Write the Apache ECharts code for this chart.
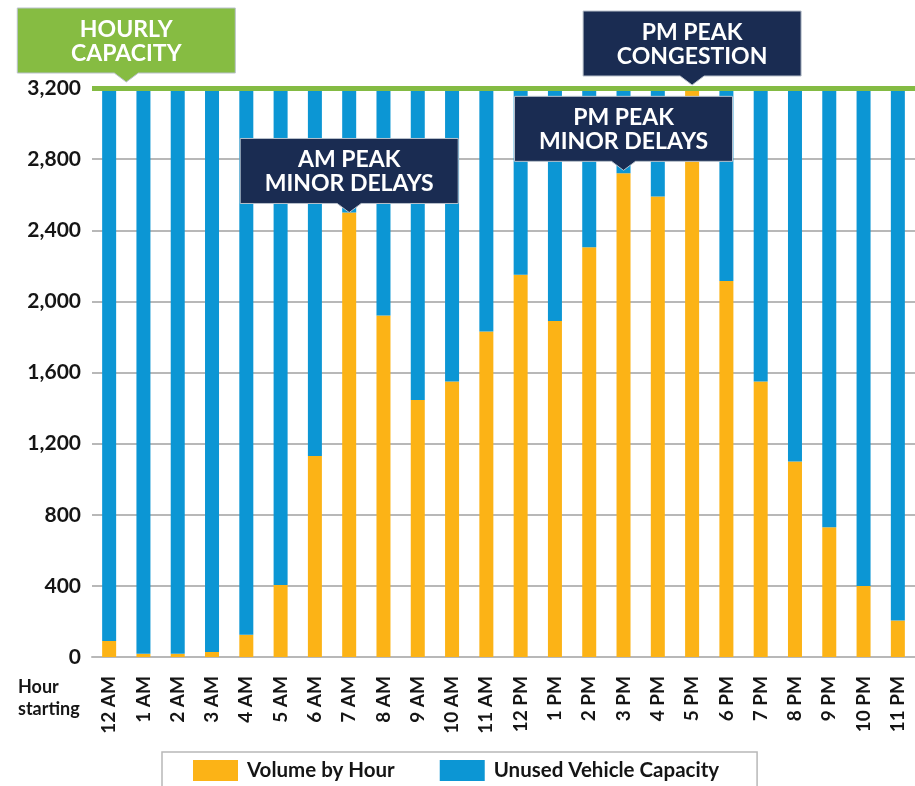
<!DOCTYPE html>
<html>
<head>
<meta charset="utf-8">
<script src="https://cdn.jsdelivr.net/npm/echarts@6/dist/echarts.min.js"></script>
<style>
  html, body { margin: 0; padding: 0; background: #fff; }
  #chart { width: 915px; height: 786px; }
</style>
</head>
<body>
<div id="chart"></div>
<script>
// hours on the x axis
var hours = ['12 AM', '1 AM', '2 AM', '3 AM', '4 AM', '5 AM', '6 AM', '7 AM', '8 AM', '9 AM', '10 AM', '11 AM',
    '12 PM', '1 PM', '2 PM', '3 PM', '4 PM', '5 PM', '6 PM', '7 PM', '8 PM', '9 PM', '10 PM', '11 PM'];

// vehicles per hour
var volume = [90, 18, 18, 28, 125, 405, 1130, 2500, 1920, 1445, 1550, 1830,
    2150, 1890, 2305, 2720, 2590, 3200, 2115, 1550, 1100, 730, 400, 205];

var capacity = 3200;
var yTicks = [0, 400, 800, 1200, 1600, 2000, 2400, 2800, 3200];

// callouts: text, which hour they point at, value they point at
var notes = [
    { text: 'HOURLY\nCAPACITY', at: 0.5, value: 3200, fill: '#86bc42', lift: 6 },
    { text: 'PM PEAK\nCONGESTION', at: 17, value: 3200, fill: '#1a2c52', lift: 3 },
    { text: 'AM PEAK\nMINOR DELAYS', at: 7, value: 2500, fill: '#1a2c52', lift: 0 },
    { text: 'PM PEAK\nMINOR DELAYS', at: 15, value: 2720, fill: '#1a2c52', lift: 3 }
];

var unused = volume.map(function (v) { return capacity - v; });

var myChart = echarts.init(document.getElementById('chart'));

var option = {
    backgroundColor: '#ffffff',
    animation: false,
    textStyle: { fontFamily: 'Lato' },
    grid: { left: 92, right: 0, top: 88, bottom: 129 },
    legend: {
        left: 162,
        top: 752,
        padding: [8, 38, 14, 31],
        borderColor: '#b8b8b8',
        borderWidth: 1.5,
        itemWidth: 45,
        itemHeight: 21,
        itemGap: 45,
        icon: 'rect',
        textStyle: { fontSize: 20.5, fontWeight: 'bold', color: '#151515', padding: [0, 0, 0, 4] },
        data: ['Volume by Hour', 'Unused Vehicle Capacity']
    },
    xAxis: {
        type: 'category',
        data: hours,
        axisLine: { lineStyle: { color: '#b8b8b8', width: 2 } },
        axisTick: { show: false },
        axisLabel: {
            rotate: 90,
            margin: 19,
            interval: 0,
            fontSize: 19,
            fontWeight: 'bold',
            color: '#151515'
        }
    },
    yAxis: {
        type: 'value',
        min: 0,
        max: 3200,
        interval: 400,
        axisLine: { show: false },
        axisTick: { show: false },
        splitLine: { lineStyle: { color: '#b8b8b8', width: 2 } },
        axisLabel: {
            margin: 11,
            fontSize: 21,
            fontWeight: 'bold',
            color: '#151515',
            formatter: function (v) {
                return yTicks.indexOf(v) >= 0 ? v.toLocaleString('en-US') : '';
            }
        }
    },
    series: [
        {
            name: 'Volume by Hour',
            type: 'bar',
            stack: 'cap',
            barWidth: 14,
            itemStyle: { color: '#fcb316' },
            data: volume
        },
        {
            name: 'Unused Vehicle Capacity',
            type: 'bar',
            stack: 'cap',
            barWidth: 14,
            itemStyle: { color: '#0c96d4' },
            data: unused,
            markLine: {
                silent: true,
                symbol: 'none',
                label: { show: false },
                lineStyle: { color: '#84bb43', width: 5, type: 'solid' },
                data: [{ yAxis: capacity }]
            }
        }
    ]
};
myChart.setOption(option);

//callout boxes, placed from the axes
function noteX(at) {
    var lo = Math.floor(at), hi = Math.ceil(at);
    var a = myChart.convertToPixel({ gridIndex: 0 }, [lo, 0])[0];
    var b = myChart.convertToPixel({ gridIndex: 0 }, [hi, 0])[0];
    return a + (b - a) * (at - lo);
}

var graphics = [];
var boxW = 218, boxH = 65, tipH = 9, tipHalf = 12;
notes.forEach(function (n) {
    var cx = noteX(n.at);
    var tipY = myChart.convertToPixel({ gridIndex: 0 }, [0, n.value])[1] - n.lift;
    var b = tipY - tipH, t = b - boxH, l = cx - boxW / 2, r = cx + boxW / 2;
    graphics.push({
        type: 'polygon',
        z: 100,
        shape: { points: [[l, t], [r, t], [r, b], [cx + tipHalf, b], [cx, tipY], [cx - tipHalf, b], [l, b]] },
        style: { fill: n.fill, stroke: '#b9c1cc', lineWidth: 1 }
    });
    graphics.push({
        type: 'text',
        z: 101,
        style: {
            text: n.text,
            x: cx,
            y: t + boxH / 2 + 1,
            align: 'center',
            verticalAlign: 'middle',
            fill: '#ffffff',
            font: 'bold 23px Lato',
            lineHeight: 24
        }
    });
});

graphics.push({
    type: 'text',
    left: 18,
    top: 676,
    style: {
        text: 'Hour\nstarting',
        fill: '#151515',
        font: 'bold 18px Lato',
        lineHeight: 22
    }
});

myChart.setOption({ graphic: graphics });
</script>
</body>
</html>
